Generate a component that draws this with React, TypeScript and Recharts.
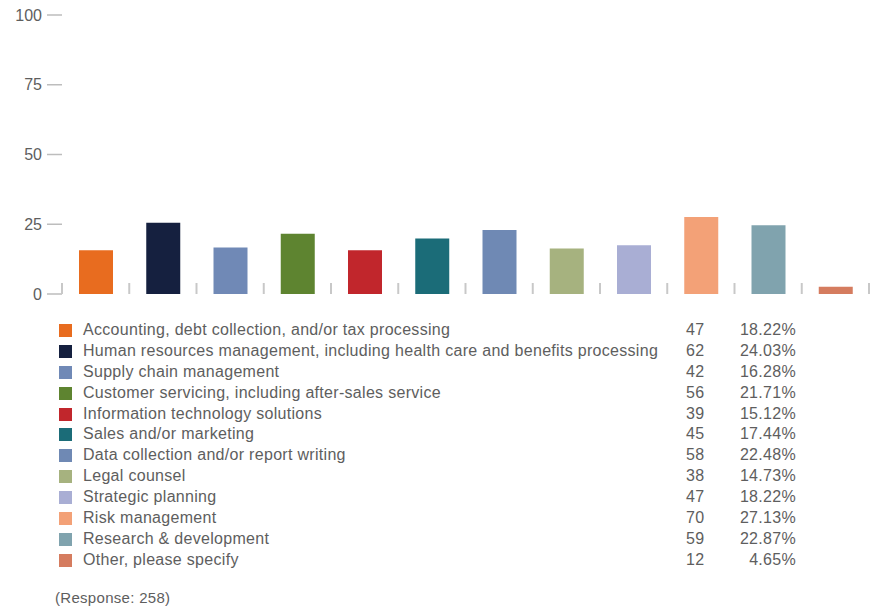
import { BarChart, Bar, XAxis, YAxis, Cell } from 'recharts';

const categories = [
  'Accounting, debt collection, and/or tax processing',
  'Human resources management, including health care and benefits processing',
  'Supply chain management',
  'Customer servicing, including after-sales service',
  'Information technology solutions',
  'Sales and/or marketing',
  'Data collection and/or report writing',
  'Legal counsel',
  'Strategic planning',
  'Risk management',
  'Research & development',
  'Other, please specify',
];

// bar heights
const barValues = [15.7, 25.5, 16.7, 21.6, 15.7, 19.9, 22.9, 16.3, 17.5, 27.6, 24.6, 2.6];
const counts = [47, 62, 42, 56, 39, 45, 58, 38, 47, 70, 59, 12];
const percents = ['18.22%', '24.03%', '16.28%', '21.71%', '15.12%', '17.44%', '22.48%', '14.73%', '18.22%', '27.13%', '22.87%', '4.65%'];
const colors = ['#E86C1F', '#15203F', '#7089B6', '#5E8430', '#C1262C', '#1B6C78', '#6F89B4', '#A6B27F', '#A9AED4', '#F3A177', '#80A3AE', '#D57C5F'];
const yTicks = [0, 25, 50, 75, 100];
const xTicks = categories.map((_, i) => i).concat(categories.length);
const responseNote = '(Response: 258)';

const data = categories.map((name, i) => ({ name, pos: i + 0.5, value: barValues[i] }));

const font = '"Liberation Sans", Arial, sans-serif';
const textGrey = '#5e5e5e';

const DividerTick = (props: any) => {
  const { x, y } = props;
  return <line x1={x} x2={x} y1={y - 11} y2={y} stroke="#c8c8c8" strokeWidth={2} />;
};

export default function App() {
  return (
    <div style={{ position: 'relative', width: 873, height: 609, background: '#fff', fontFamily: font }}>
      <style>{'body{margin:0}'}</style>
      <BarChart width={873} height={312} data={data} margin={{ top: 15, right: 4, bottom: 17, left: 0 }}>
        <XAxis
          dataKey="pos"
          type="number"
          domain={[0, categories.length]}
          ticks={xTicks}
          interval={0}
          height={1}
          axisLine={false}
          tickLine={false}
          tickSize={0}
          tickMargin={0}
          tick={<DividerTick />}
        />
        <YAxis
          domain={[0, 100]}
          ticks={yTicks}
          interval={0}
          width={62}
          axisLine={false}
          tickSize={15}
          tickMargin={5}
          tickLine={{ stroke: '#bdbdbd', strokeWidth: 1.5 }}
          tick={{ fill: textGrey, fontSize: 16, fontFamily: font }}
        />
        <Bar dataKey="value" barSize={34} isAnimationActive={false}>
          {data.map((d, i) => (
            <Cell key={d.name} fill={colors[i]} />
          ))}
        </Bar>
      </BarChart>

      <div style={{ position: 'absolute', left: 0, top: 320, width: 873 }}>
        {categories.map((c, i) => (
          <div key={c} style={{ position: 'relative', height: 20.9, fontSize: 16, letterSpacing: 0.3, color: textGrey, lineHeight: '20.9px' }}>
            <span style={{ position: 'absolute', left: 59, top: 4, width: 13, height: 13, background: colors[i] }} />
            <span style={{ position: 'absolute', left: 83, whiteSpace: 'nowrap' }}>{c}</span>
            <span style={{ position: 'absolute', left: 686 }}>{counts[i]}</span>
            <span style={{ position: 'absolute', right: 873 - 796, textAlign: 'right' }}>{percents[i]}</span>
          </div>
        ))}
      </div>
      <div style={{ position: 'absolute', left: 55, top: 589, fontSize: 15, letterSpacing: 0.3, color: textGrey }}>{responseNote}</div>
    </div>
  );
}
